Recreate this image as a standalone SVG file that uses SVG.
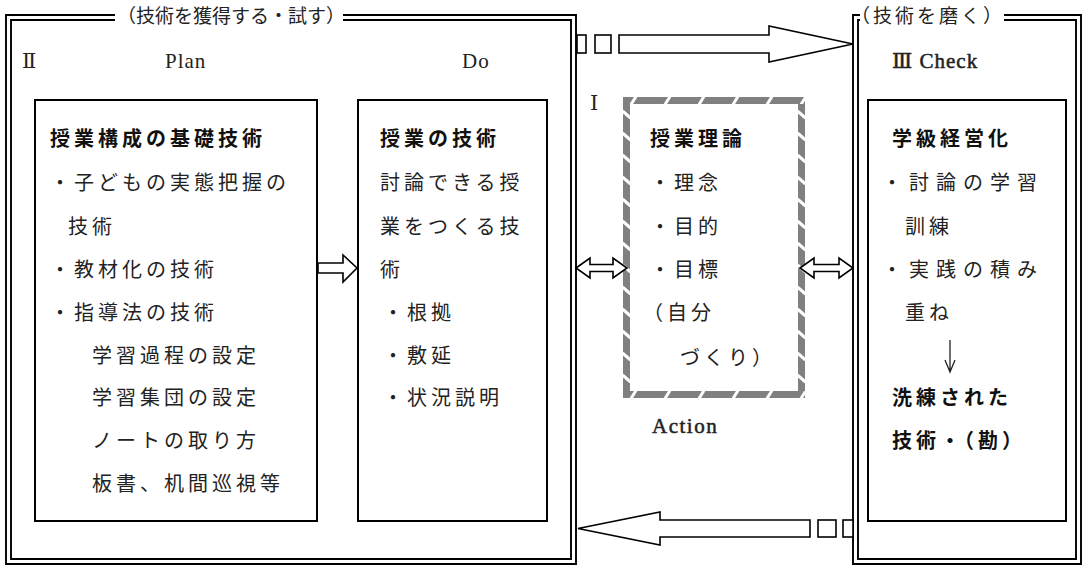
<svg xmlns="http://www.w3.org/2000/svg" width="1086" height="566" viewBox="0 0 1086 566">
<style>
.fr{fill:none;stroke:#000;stroke-width:1.9}
.bx{fill:#fff;stroke:#000;stroke-width:2}
.ar{fill:#fff;stroke:#000;stroke-width:1.6;stroke-linejoin:miter}
.t{font-family:"Noto Sans CJK JP","Noto Sans CJK SC",sans-serif;font-size:20px;fill:#222;letter-spacing:4px}
.b{font-weight:bold;fill:#111}
.ttl{font-family:"Noto Sans CJK JP","Noto Sans CJK SC",sans-serif;font-size:19px;fill:#222}
.l{font-family:"Liberation Serif","DejaVu Serif","Noto Sans CJK JP",serif;font-size:21px;fill:#222;letter-spacing:1px}
.sb{stroke:#222;stroke-width:0.5}
</style>
<defs>
<pattern id="hh" patternUnits="userSpaceOnUse" x="623" y="97" width="34" height="7">
<rect width="34" height="7" fill="#808080"/>
<line x1="8" y1="7.5" x2="13" y2="-0.5" stroke="#fff" stroke-width="3"/>
</pattern>
<pattern id="hv" patternUnits="userSpaceOnUse" x="623" y="104" width="7" height="22">
<rect width="7" height="22" fill="#808080"/>
<line x1="-0.5" y1="7" x2="7.5" y2="14" stroke="#fff" stroke-width="3"/>
</pattern>
</defs>
<rect width="1086" height="566" fill="#fff"/>

<g id="frame-left">
<path class="fr" d="M115,15 H6 V564 H576 V15 H343 M115,20 H11 V559 H571 V20 H343"/>
<text class="ttl" x="117" y="23">（技術を獲得する・試す）</text>
<text class="l" x="22" y="68">Ⅱ</text>
<text class="l" x="165" y="68">Plan</text>
<text class="l" x="462" y="68">Do</text>
</g>

<g id="frame-right">
<path class="fr" d="M860,15 H853 V564 H1081 V15 H1004 M860,20 H858 V559 H1076 V20 H1004"/>
<text class="ttl" x="851" y="23" style="letter-spacing:3px">（技術を磨く）</text>
<text class="l sb" x="892" y="68">Ⅲ Check</text>
</g>

<g id="plan">
<rect class="bx" x="35" y="100" width="282" height="421"/>
<text class="t b" x="50" y="146">授業構成の基礎技術</text>
<text class="t" x="50" y="190">・子どもの実態把握の</text>
<text class="t" x="68" y="234">技術</text>
<text class="t" x="50" y="277">・教材化の技術</text>
<text class="t" x="50" y="320">・指導法の技術</text>
<text class="t" x="92" y="363">学習過程の設定</text>
<text class="t" x="92" y="405">学習集団の設定</text>
<text class="t" x="92" y="448">ノートの取り方</text>
<text class="t" x="92" y="491">板書、机間巡視等</text>
</g>

<g id="do">
<rect class="bx" x="358" y="100" width="189" height="421"/>
<text class="t b" x="380" y="146">授業の技術</text>
<text class="t" x="380" y="190">討論できる授</text>
<text class="t" x="380" y="234">業をつくる技</text>
<text class="t" x="380" y="277">術</text>
<text class="t" x="383" y="320">・根拠</text>
<text class="t" x="383" y="363">・敷延</text>
<text class="t" x="383" y="405">・状況説明</text>
</g>

<g id="action">
<text class="l" x="590" y="110">Ⅰ</text>
<rect x="623" y="97" width="182" height="7" fill="url(#hh)"/>
<rect x="623" y="391" width="182" height="7" fill="url(#hh)"/>
<rect x="623" y="104" width="7" height="287" fill="url(#hv)"/>
<rect x="798" y="104" width="7" height="287" fill="url(#hv)"/>
<text class="t b" x="650" y="146">授業理論</text>
<text class="t" x="650" y="190">・理念</text>
<text class="t" x="650" y="234">・目的</text>
<text class="t" x="650" y="277">・目標</text>
<text class="t" x="643" y="320">（自分</text>
<text class="t" x="680" y="365">づくり）</text>
<text class="l sb" x="652" y="433" style="letter-spacing:1.5px">Action</text>
</g>

<g id="check">
<rect class="bx" x="868" y="100" width="198" height="421"/>
<text class="t b" x="892" y="146">学級経営化</text>
<text class="t" x="882" y="190" style="letter-spacing:7px">・討論の学習</text>
<text class="t" x="905" y="234">訓練</text>
<text class="t" x="882" y="277" style="letter-spacing:7px">・実践の積み</text>
<text class="t" x="905" y="320">重ね</text>
<path d="M950,340 V372 M945,360 L950,372 L955,360" fill="none" stroke="#222" stroke-width="1.3"/>
<text class="t b" x="892" y="405">洗練された</text>
<text class="t b" x="892" y="448">技術・（勘）</text>
</g>

<g id="connectors">
<polygon class="ar" points="318,263 343,263 343,255 357,268 343,282 343,273 318,273"/>
<polygon class="ar" points="576,268 590,258 590,264.5 613,264.5 613,258 627,268 613,278 613,271.5 590,271.5 590,278"/>
<polygon class="ar" points="800,268 814,258 814,264.5 839,264.5 839,258 853,268 839,278 839,271.5 814,271.5 814,278"/>
<rect class="ar" x="577" y="35" width="9" height="18"/>
<rect class="ar" x="595" y="35" width="16" height="18"/>
<polygon class="ar" points="619,35 769,35 769,26 853,44 769,62 769,53 619,53"/>
<rect class="ar" x="818" y="520" width="18" height="17"/>
<rect class="ar" x="843" y="520" width="10" height="17"/>
<polygon class="ar" points="810,520 660,520 660,512 578,528.5 660,545 660,537 810,537"/>
</g>
</svg>
